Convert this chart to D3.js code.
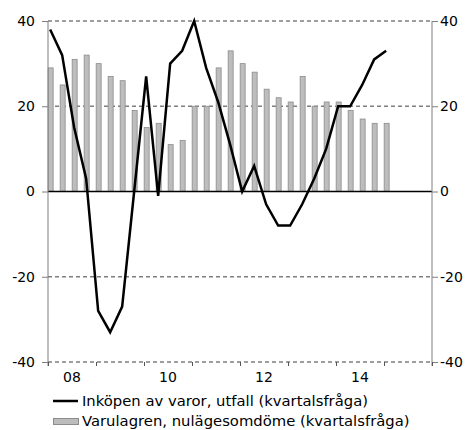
<!DOCTYPE html>
<html><head><meta charset="utf-8">
<script src="https://cdn.jsdelivr.net/npm/d3@7"></script>
<style>body{margin:0;background:#fff}svg{display:block}text{font-family:Verdana,"DejaVu Sans",sans-serif}</style>
</head><body>
<svg id="c" width="470" height="430"></svg>
<script>
const quarters = ["2008Q1","2008Q2","2008Q3","2008Q4","2009Q1","2009Q2","2009Q3","2009Q4",
"2010Q1","2010Q2","2010Q3","2010Q4","2011Q1","2011Q2","2011Q3","2011Q4",
"2012Q1","2012Q2","2012Q3","2012Q4","2013Q1","2013Q2","2013Q3","2013Q4",
"2014Q1","2014Q2","2014Q3","2014Q4","2015Q1"];
const purchases = [38,32,15,3,-28,-33,-27,0,27,-1,30,33,40,29,21,11,0,6,-3,-8,-8,-3,3,10,20,20,25,31,33];
const inventories = [29,25,31,32,30,27,26,19,15,16,11,12,20,20,29,33,30,28,24,22,21,27,20,21,21,19,17,16,16];
const yTicks = [-40,-20,0,20,40];
const yearTicks = [2008,2009,2010,2011,2012,2013,2014,2015,2016];
const yearLabels = ["08","10","12","14"];
const legendLabels = ["Inköpen av varor, utfall (kvartalsfråga)","Varulagren, nulägesomdöme (kvartalsfråga)"];

const svg = d3.select("#c");
const L = 48, R = 432, T = 21, B = 362;
const x = d3.scaleLinear().domain([2008, 2016]).range([L, R]);
const y = d3.scaleLinear().domain([-40, 40]).range([B, T]);
const qpos = q => +q.slice(0,4) + (+q.slice(5) - 1) / 4 + 0.045;

// gridlines
svg.append("g").selectAll("line").data(yTicks.filter(v => v !== 0)).join("line")
  .attr("x1", L).attr("x2", R).attr("y1", d => y(d)).attr("y2", d => y(d))
  .attr("stroke", "#7f7f7f").attr("stroke-width", 1.3).attr("stroke-dasharray", "4,3");

// bars
const bw = 5;
svg.append("g").selectAll("rect").data(inventories).join("rect")
  .attr("x", (d, i) => x(qpos(quarters[i])) - bw / 2 + 0.5)
  .attr("y", d => y(d)).attr("width", bw).attr("height", d => y(0) - y(d))
  .attr("fill", "#bdbdbd").attr("stroke", "#8c8c8c").attr("stroke-width", 0.8);

// zero line
svg.append("line").attr("x1", L).attr("x2", R).attr("y1", y(0)).attr("y2", y(0))
  .attr("stroke", "#000").attr("stroke-width", 1.5);

// axes
const fmt = d => String(d);
const yl = d3.axisLeft(y).tickValues(yTicks).tickSize(6).tickPadding(7).tickFormat(fmt);
const yr = d3.axisRight(y).tickValues(yTicks).tickSize(6).tickPadding(2).tickFormat(fmt);
const gl = svg.append("g").attr("transform", `translate(${L},0)`).call(yl);
const gr = svg.append("g").attr("transform", `translate(${R},0)`).call(yr);
[gl, gr].forEach(g => {
  g.select(".domain").attr("stroke", "#7f7f7f").attr("d", `M0,${T}V${B+4}`);
  g.selectAll(".tick line").attr("stroke", "#7f7f7f");
  g.selectAll("text").attr("font-size", 14).attr("fill", "#000").style("font-family", 'Verdana,"DejaVu Sans",sans-serif');
});
const xa = d3.axisBottom(x).tickValues(yearTicks).tickSize(4).tickFormat("");
const gx = svg.append("g").attr("transform", `translate(0,${B})`).call(xa);
gx.select(".domain").remove();
gx.selectAll(".tick line").attr("stroke", "#555");
svg.selectAll(".yearlab").data(yearLabels).join("text")
  .attr("x", d => x(2000 + +d + 0.5)).attr("y", 382).attr("text-anchor", "middle")
  .attr("font-size", 14).text(d => d);

// line
svg.append("path").datum(purchases)
  .attr("d", d3.line().x((d, i) => x(qpos(quarters[i]))).y(d => y(d)))
  .attr("fill", "none").attr("stroke", "#000").attr("stroke-width", 2.5).attr("stroke-linejoin", "miter");

// legend
const lg = svg.append("g");
lg.append("line").attr("x1", 53).attr("x2", 78).attr("y1", 401).attr("y2", 401).attr("stroke", "#000").attr("stroke-width", 2.5);
lg.append("rect").attr("x", 53.5).attr("y", 418.5).attr("width", 25).attr("height", 6).attr("fill", "#bdbdbd").attr("stroke", "#8c8c8c");
lg.selectAll("text").data(legendLabels).join("text")
  .attr("x", 82).attr("y", (d, i) => 406 + i * 20).attr("font-size", 14.8).text(d => d);
</script>
</body></html>
